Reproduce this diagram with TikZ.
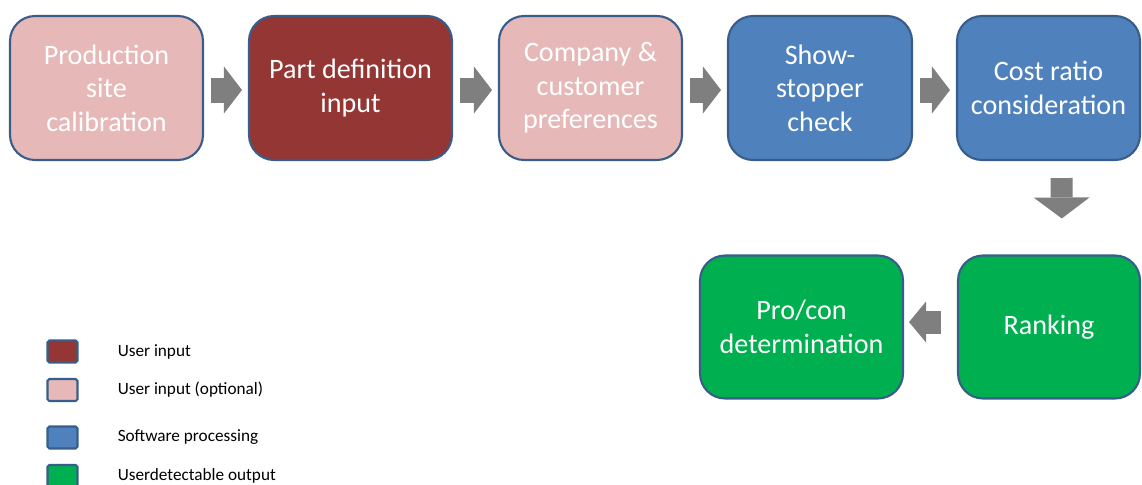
\documentclass[tikz,border=0pt]{standalone}
\usepackage{fontspec}
\setmainfont{Carlito}
\usepackage{tikz}
\usetikzlibrary{arrows.meta,positioning}

\definecolor{pinkbox}{HTML}{E6B9B8}
\definecolor{redbox}{HTML}{943634}
\definecolor{bluebox}{HTML}{4F81BD}
\definecolor{greenbox}{HTML}{00B050}
\definecolor{edgeblue}{HTML}{385D8A}
\definecolor{arrowgrey}{HTML}{7F7F7F}

\begin{document}
\begin{tikzpicture}[
            x=0.02cm, y=-0.02cm,
            stage/.style={rounded corners=0.5cm, draw=edgeblue, line width=1.2pt,
                minimum height=2.88cm, align=center, text=white,
                font={\fontsize{16}{19}\selectfont}},
            key/.style={rounded corners=1pt, draw=edgeblue, line width=1.2pt,
                minimum width=0.6cm, minimum height=0.44cm, inner sep=0pt},
            keytext/.style={right=0.66cm of #1, font={\fontsize{9.8}{12}\selectfont}},
            flow/.style={arrowgrey, line width=#1},
            flow/.default=0.5cm
        ]
        \useasboundingbox (0,0) rectangle (1142,484);

        % top row, left to right
        \node[stage, fill=pinkbox, minimum width=3.86cm] (calib) at (106.5,88)
            {Production\\site\\calibration};
        \node[stage, fill=redbox, minimum width=4.06cm] (partdef) at (350.5,88)
            {Part definition\\input};
        \node[stage, fill=pinkbox, minimum width=3.66cm] (prefs) at (590.5,88)
            {Company \&\\customer\\preferences};
        \node[stage, fill=bluebox, minimum width=3.68cm] (stopper) at (820,88)
            {Show-\\stopper\\check};
        \node[stage, fill=bluebox, minimum width=3.66cm] (cost) at (1048.5,88)
            {Cost ratio\\consideration};

        % bottom row, right to left
        \node[stage, fill=greenbox, minimum width=3.64cm, minimum height=2.86cm] (rank) at (1049,327)
            {Ranking};
        \node[stage, fill=greenbox, minimum width=4.06cm, minimum height=2.86cm] (procon) at (801.5,327)
            {Pro/con\\determination};

        % block arrows between the stages
        \foreach \src/\dst in {calib/partdef, partdef/prefs, prefs/stopper, stopper/cost}
            \draw[flow, shorten <=0.14cm, shorten >=0.12cm,
                -{Triangle[length=0.36cm, width=0.94cm, line width=0pt]}]
                ([yshift=-0.04cm]\src.east) -- ([yshift=-0.04cm]\dst.west);
        \draw[flow=0.44cm, shorten <=0.34cm, shorten >=0.72cm,
            -{Triangle[length=0.42cm, width=1.12cm, line width=0pt]}]
            ([xshift=0.26cm]cost.south) -- ([xshift=0.26cm]rank.north);
        \draw[flow=0.46cm, shorten <=0.32cm, shorten >=0.1cm,
            -{Triangle[length=0.34cm, width=0.82cm, line width=0pt]}]
            ([yshift=0.1cm]rank.west) -- ([yshift=0.1cm]procon.east);

        % legend
        \node[key, fill=redbox] (k1) at (62.5,351.5) {};
        \node[key, fill=pinkbox] (k2) at (62.5,390) {};
        \node[key, fill=bluebox] (k3) at (62.5,437.5) {};
        \node[key, fill=greenbox] (k4) at (62.5,476) {};
        \node[keytext=k1] (t1) {User input};
        \node[keytext=k2] (t2) {User input (optional)};
        \node[keytext=k3] (t3) {Software processing};
        \node[keytext=k4] (t4) {Userdetectable output};
    \end{tikzpicture}
\end{document}
